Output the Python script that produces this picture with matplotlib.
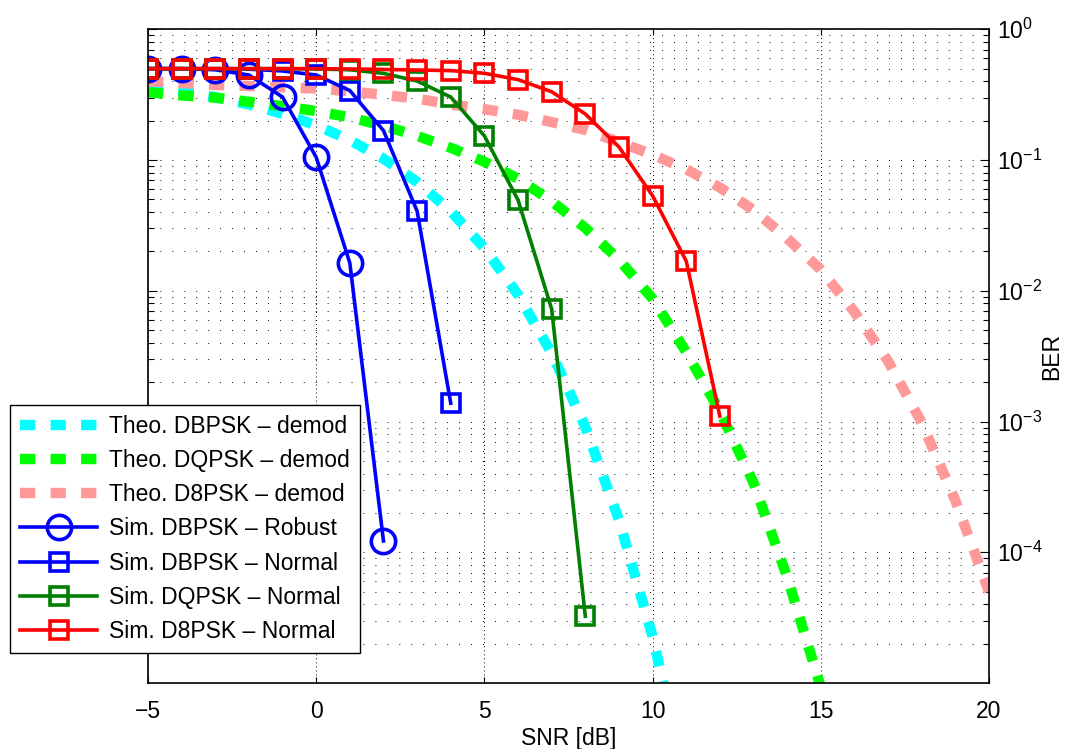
import matplotlib
import numpy as np

matplotlib.use("Agg")
from matplotlib import pyplot as plt
from matplotlib.ticker import FixedLocator, FuncFormatter, LogLocator, NullFormatter

plt.rcParams["font.family"] = ["Liberation Sans", "DejaVu Sans"]
plt.rcParams["mathtext.fontset"] = "custom"
plt.rcParams["mathtext.rm"] = "Liberation Sans"
plt.rcParams["lines.scale_dashes"] = False

# theoretical curves, 1 dB steps
snr_dbpsk_theo = [-5, -4, -3, -2, -1, 0, 1, 2, 3, 4, 5, 6, 7, 8, 9, 10, 11]
ber_dbpsk_theo = [0.364, 0.336, 0.303, 0.266, 0.226, 0.184, 0.142, 0.1025, 0.068, 0.0406,
                  0.0212, 0.00933, 0.00333, 9.1e-4, 1.77e-4, 2.27e-5, 1.7e-6]

snr_dqpsk_theo = [-5, -4, -3, -2, -1, 0, 1, 2, 3, 4, 5, 6, 7, 8, 9, 10, 11, 12, 13, 14, 15, 16]
ber_dqpsk_theo = [0.33, 0.312, 0.300, 0.279, 0.258, 0.237, 0.212, 0.183, 0.153, 0.124, 0.097,
                  0.072, 0.0484, 0.0302, 0.0173, 0.0087, 0.0034, 1.2e-3, 3.4e-4, 6.5e-5,
                  9.3e-6, 1.2e-6]

snr_d8psk_theo = [-5, -4, -3, -2, -1, 0, 1, 2, 3, 4, 5, 6, 7, 8, 9, 10, 11, 12, 13, 14, 15,
                  16, 17, 18, 19, 20]
ber_d8psk_theo = [0.40, 0.388, 0.375, 0.368, 0.36, 0.352, 0.336, 0.315, 0.295, 0.266, 0.245,
                  0.222, 0.195, 0.17, 0.137, 0.110, 0.085, 0.0617, 0.0414, 0.0252, 0.0145,
                  6.9e-3, 2.9e-3, 9.8e-4, 2.5e-4, 5.0e-5]

# simulated points
snr_dbpsk_robust = [-5, -4, -3, -2, -1, 0, 1, 2]
ber_dbpsk_robust = [0.5, 0.5, 0.49, 0.447, 0.303, 0.105, 0.0163, 1.22e-4]

snr_dbpsk_normal = [-5, -4, -3, -2, -1, 0, 1, 2, 3, 4]
ber_dbpsk_normal = [0.5, 0.5, 0.5, 0.495, 0.48, 0.447, 0.34, 0.168, 0.0407, 1.38e-3]

snr_dqpsk_normal = [-5, -4, -3, -2, -1, 0, 1, 2, 3, 4, 5, 6, 7, 8]
ber_dqpsk_normal = [0.5, 0.5, 0.5, 0.5, 0.5, 0.497, 0.49, 0.46, 0.402, 0.303, 0.153, 0.0494,
                    7.25e-3, 3.24e-5]

snr_d8psk_normal = [-5, -4, -3, -2, -1, 0, 1, 2, 3, 4, 5, 6, 7, 8, 9, 10, 11, 12]
ber_d8psk_normal = [0.5, 0.5, 0.5, 0.5, 0.5, 0.5, 0.497, 0.493, 0.488, 0.483, 0.461, 0.412,
                    0.333, 0.225, 0.126, 0.0533, 0.0169, 1.1e-3]

x_ticks = [-5, 0, 5, 10, 15, 20]
y_ticks = [1e-4, 1e-3, 1e-2, 1e-1, 1]

fig = plt.figure(figsize=(10.78, 7.49), dpi=100)
ax = fig.add_axes([0.1373, 0.0881, 0.9174 - 0.1373, 0.9609 - 0.0881])

dash = (0, (11, 11))
ax.plot(snr_dbpsk_theo, ber_dbpsk_theo, color="#00ffff", lw=7.5, linestyle=dash,
        label="Theo. DBPSK \u2013 demod")
ax.plot(snr_dqpsk_theo, ber_dqpsk_theo, color="#00ff00", lw=7.5, linestyle=dash,
        label="Theo. DQPSK \u2013 demod")
ax.plot(snr_d8psk_theo, ber_d8psk_theo, color="#ff9999", lw=7.5, linestyle=dash,
        label="Theo. D8PSK \u2013 demod")

sim = dict(lw=2.6, mew=2.6, mfc="none")
ax.plot(snr_dbpsk_robust, ber_dbpsk_robust, color="#0000ff", marker="o", ms=17.5,
        label="Sim. DBPSK \u2013 Robust", **sim)
ax.plot(snr_dbpsk_normal, ber_dbpsk_normal, color="#0000ff", marker="s", ms=13.5,
        label="Sim. DBPSK \u2013 Normal", **sim)
ax.plot(snr_dqpsk_normal, ber_dqpsk_normal, color="#007f00", marker="s", ms=13.5,
        label="Sim. DQPSK \u2013 Normal", **sim)
ax.plot(snr_d8psk_normal, ber_d8psk_normal, color="#ff0000", marker="s", ms=13.5,
        label="Sim. D8PSK \u2013 Normal", **sim)

ax.set_yscale("log")
ax.set_xlim(-5, 20)
ax.set_ylim(1e-5, 1)
ax.xaxis.set_major_locator(FixedLocator(x_ticks))
ax.yaxis.set_major_locator(FixedLocator(y_ticks))
ax.yaxis.set_minor_locator(LogLocator(base=10, subs=np.arange(2, 10), numticks=20))
ax.yaxis.set_minor_formatter(NullFormatter())
ax.yaxis.set_major_formatter(
    FuncFormatter(lambda v, _: r"$\mathregular{10^{%d}}$" % round(np.log10(v)))
)
ax.yaxis.tick_right()
ax.yaxis.set_label_position("right")
ax.tick_params(which="both", direction="in", top=True, bottom=True, left=True, right=True,
               labelsize=16.5, width=0.8)
ax.tick_params(axis="y", which="major", length=6.5, pad=6)
ax.tick_params(axis="y", which="minor", length=4)
ax.tick_params(axis="x", which="major", length=4, pad=12)

ax.yaxis.grid(True, which="both", color="black", linewidth=0.7, linestyle=(0, (0.7, 7.9)))
ax.xaxis.grid(True, which="major", color="black", linewidth=0.7, linestyle=(0, (0.7, 2.2)))
for spine in ax.spines.values():
    spine.set_linewidth(1.2)

ax.set_xlabel("SNR [dB]", fontsize=16.5, labelpad=3)
ax.set_ylabel("BER", fontsize=16.5)
ax.yaxis.set_label_coords(1.061, 0.5)

leg = ax.legend(loc="lower left", bbox_to_anchor=(0.0093, 0.128),
                bbox_transform=fig.transFigure, fontsize=16.5, frameon=True, fancybox=False,
                framealpha=1, edgecolor="black", borderaxespad=0, handlelength=3.36,
                handletextpad=0.5, labelspacing=0.485, borderpad=0.45)
leg.get_frame().set_linewidth(1.0)

fig.savefig("out.png", dpi=100, facecolor="white")
